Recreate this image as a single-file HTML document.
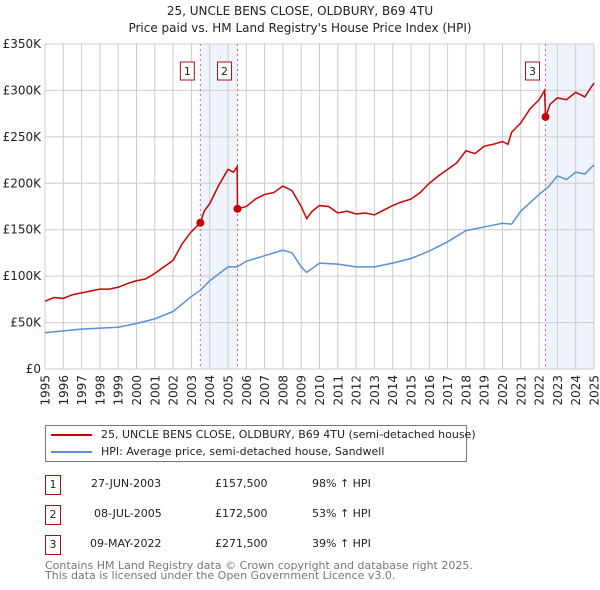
<!DOCTYPE html>
<html><head><meta charset="utf-8"><style>
body{margin:0;background:#fff;font-family:"DejaVu Sans","Liberation Sans",sans-serif;color:#222}
#wrap{position:relative;width:600px;height:590px;overflow:hidden}
.t{position:absolute;font-size:11px;white-space:nowrap}
.box{position:absolute;border:1px solid #b01010;width:14px;height:18px;text-align:center;line-height:18px;font-size:11px;background:#fff}
</style></head><body><div id="wrap">
<div class="t" style="left:0;width:600px;text-align:center;top:3px;font-size:12px;line-height:17px">25, UNCLE BENS CLOSE, OLDBURY, B69 4TU<br>Price paid vs. HM Land Registry's House Price Index (HPI)</div>
<svg id="chart" width="600" height="420" style="position:absolute;left:0;top:0;font-family:'DejaVu Sans',sans-serif"></svg>
<div style="position:absolute;left:45px;top:425px;width:420px;height:35px;border:1px solid #777">
 <div style="position:absolute;left:5px;top:8px;width:41px;height:2px;background:#cc0000"></div>
 <div class="t" style="left:55px;top:2px">25, UNCLE BENS CLOSE, OLDBURY, B69 4TU (semi-detached house)</div>
 <div style="position:absolute;left:5px;top:25px;width:41px;height:2px;background:#5b8fd6"></div>
 <div class="t" style="left:55px;top:19px">HPI: Average price, semi-detached house, Sandwell</div>
</div>
<div>
<div class="box" style="left:45px;top:475px">1</div>
<div class="t" style="left:91px;top:477px">27-JUN-2003</div><div class="t" style="left:215px;top:477px">£157,500</div><div class="t" style="left:312px;top:477px">98% ↑ HPI</div>
<div class="box" style="left:45px;top:505px">2</div>
<div class="t" style="left:94px;top:507px">08-JUL-2005</div><div class="t" style="left:215px;top:507px">£172,500</div><div class="t" style="left:312px;top:507px">53% ↑ HPI</div>
<div class="box" style="left:45px;top:535px">3</div>
<div class="t" style="left:90px;top:537px">09-MAY-2022</div><div class="t" style="left:215px;top:537px">£271,500</div><div class="t" style="left:312px;top:537px">39% ↑ HPI</div>
</div>
<div class="t" style="left:45px;top:561px;font-size:11px;line-height:10px;color:#777">Contains HM Land Registry data © Crown copyright and database right 2025.<br>This data is licensed under the Open Government Licence v3.0.</div>
</div>
<script>
const yTicks=[0,50,100,150,200,250,300,350];
const yLabels=["£0","£50K","£100K","£150K","£200K","£250K","£300K","£350K"];
const xYears=[1995,1996,1997,1998,1999,2000,2001,2002,2003,2004,2005,2006,2007,2008,2009,2010,2011,2012,2013,2014,2015,2016,2017,2018,2019,2020,2021,2022,2023,2024,2025];
const saleDates=[2003.49,2005.52,2022.35];
const salePrices=[157.5,172.5,271.5];
const saleLabels=["1","2","3"];
const redX=[1995,1995.5,1996,1996.5,1997,1997.5,1998,1998.5,1999,1999.5,2000,2000.5,2001,2001.5,2002,2002.5,2003,2003.49,2003.7,2004,2004.5,2005,2005.3,2005.5,2005.52,2006,2006.5,2007,2007.5,2008,2008.5,2009,2009.3,2009.6,2010,2010.5,2011,2011.5,2012,2012.5,2013,2013.5,2014,2014.5,2015,2015.5,2016,2016.5,2017,2017.5,2018,2018.5,2019,2019.5,2020,2020.3,2020.5,2021,2021.5,2022,2022.3,2022.35,2022.6,2023,2023.5,2024,2024.5,2025];
const redY=[73,77,76,80,82,84,86,86,88,92,95,97,103,110,117,135,148,157.5,170,178,198,215,212,218,172.5,175,183,188,190,197,192,175,162,170,176,175,168,170,167,168,166,171,176,180,183,190,200,208,215,222,235,232,240,242,245,242,255,265,280,290,300,271.5,285,292,290,298,293,308];
const blueX=[1995,1996,1997,1998,1999,2000,2001,2002,2003,2003.5,2004,2005,2005.5,2006,2007,2008,2008.5,2009,2009.3,2010,2011,2012,2013,2014,2015,2016,2017,2018,2019,2020,2020.5,2021,2022,2022.5,2023,2023.5,2024,2024.5,2025];
const blueY=[39,41,43,44,45,49,54,62,78,85,95,110,110,116,122,128,125,110,104,114,113,110,110,114,119,127,137,149,153,157,156,170,188,196,208,204,212,210,220];
const L=45,R=594,T=44,B=369;
const xs=y=>L+(y-1995)/30*(R-L);
const ys=v=>B-v/350*(B-T);
const svg=document.getElementById('chart');const NS='http://www.w3.org/2000/svg';
function mk(tag,attrs,parent){const e=document.createElementNS(NS,tag);for(const k in attrs)e.setAttribute(k,attrs[k]);(parent||svg).appendChild(e);return e;}
let e;
e=mk('rect',{x:xs(saleDates[0]),y:T,width:xs(saleDates[1])-xs(saleDates[0]),height:B-T,fill:'#eef3fc'});


e=mk('rect',{x:xs(saleDates[2]),y:T,width:R-xs(saleDates[2]),height:B-T,fill:'#eef3fc'});


yTicks.forEach((v,i)=>{
 e=mk('line',{x1:L,x2:R,y1:ys(v),y2:ys(v),stroke:'#ccc'});
 
 
 e=mk('text',{x:L-4,y:ys(v)+4,'text-anchor':'end','font-size':12,fill:'#222'});e.textContent=yLabels[i];
 
 
});
xYears.forEach(y=>{
 e=mk('line',{x1:xs(y),x2:xs(y),y1:T,y2:B,stroke:'#ccc'});
 
 
 e=mk('text',{x:0,y:0,'text-anchor':'end','font-size':12,fill:'#222',transform:'translate('+(xs(y)+4.5)+',375) rotate(-90)'});e.textContent=y;
 
 
});
saleDates.forEach((d,i)=>{
 e=mk('line',{x1:xs(d),x2:xs(d),y1:T,y2:B,stroke:'#e06060','stroke-dasharray':'2,3'});
 
 
});
e=mk('polyline',{points:blueX.map((x,i)=>xs(x)+','+ys(blueY[i])).join(' '),fill:'none',stroke:'#5b8fd6','stroke-width':1.5});


e=mk('polyline',{points:redX.map((x,i)=>xs(x)+','+ys(redY[i])).join(' '),fill:'none',stroke:'#cc0000','stroke-width':1.5});


saleDates.forEach((d,i)=>{
 e=mk('circle',{cx:xs(d),cy:ys(salePrices[i]),r:4,fill:'#cc0000'});
 
 
 e=mk('rect',{x:xs(d)-20,y:62,width:14,height:18,fill:'#fff',stroke:'#b01010'});
 
 
 e=mk('text',{x:xs(d)-13,y:75,'text-anchor':'middle','font-size':11,fill:'#222'});e.textContent=saleLabels[i];
 
 
});
</script></body></html>
